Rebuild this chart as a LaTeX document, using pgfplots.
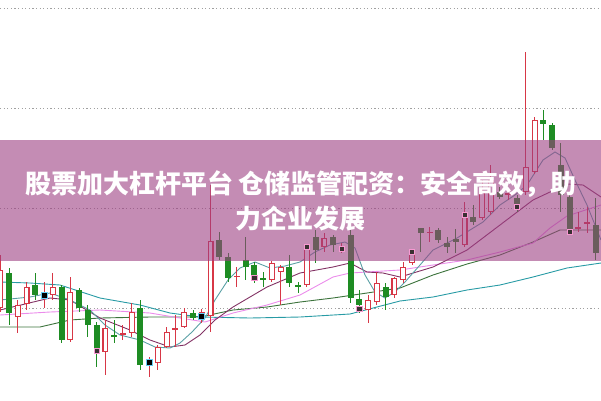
\documentclass[border=0pt]{standalone}
\usepackage{pgfplots}
\usepackage{pgfplotstable}
\pgfplotsset{compat=1.18}
\usepackage{fontspec}
\newfontfamily\cjk{Noto Sans CJK SC}
\definecolor{cred}{RGB}{215,55,70}
\definecolor{cgreen}{RGB}{30,140,35}
\definecolor{maA}{RGB}{90,160,165}
\definecolor{maB}{RGB}{130,50,100}
\definecolor{maC}{RGB}{235,140,235}
\definecolor{maD}{RGB}{60,115,60}
\definecolor{maE}{RGB}{40,155,165}
\definecolor{bannercol}{RGB}{157,63,130}
\definecolor{gridcol}{RGB}{160,160,160}

\pgfplotstableread{
x top bot hi lo
0.2 270 308 255 312
17.8 305 317 300 333
26.5 287 304 282 310
44.0 293 298 282 308
52.8 287 295 273 300
70.3 292 340 277 342
105.4 328 352 320 375
122.9 333 335 325 340
131.6 312 333 303 337
149.2 359 365 357 377
157.9 347 363 345 370
166.7 332 347 327 348
175.4 328 330 315 347
184.2 312 327 308 328
201.7 312 320 309 323
210.5 241 316 185 332
236.8 276 277 267 287
271.8 263 280 261 282
280.6 267 272 265 305
306.8 248 285 245 287
324.4 238 247 233 252
341.9 247 250 243 253
368.2 300 310 295 323
376.9 283 302 272 305
394.4 278 295 277 298
403.2 267 280 262 283
412.0 251 263 249 265
429.5 232 233 227 242
464.5 213 245 202 247
482.0 192 218 180 220
490.8 180 212 165 215
508.3 193 195 188 200
525.8 167 192 52 195
534.6 120 172 117 174
578.4 227 229 212 232
587.2 222 224 207 233
}\redtab

\pgfplotstableread{
x top bot hi lo
9.0 273 313 268 325
35.3 285 295 273 300
61.6 287 340 285 343
79.1 290 308 288 312
87.8 310 325 305 337
96.6 325 353 322 367
114.1 335 337 320 343
140.4 308 365 300 370
193.0 313 318 310 320
219.2 240 257 232 260
228.0 257 278 253 282
245.5 260 267 237 280
254.3 265 278 262 283
263.0 278 280 272 287
289.3 267 283 255 287
298.1 285 287 282 293
315.6 237 250 230 263
333.1 237 245 235 252
350.6 235 298 230 303
359.4 299 305 290 313
385.7 287 297 283 310
420.7 228 233 228 252
438.2 230 240 228 243
447.0 243 247 237 253
455.8 239 242 229 253
473.3 217 222 205 225
499.6 192 197 187 199
517.1 198 210 195 212
543.4 120 124 110 140
552.1 125 148 123 150
560.9 165 195 143 212
569.6 197 233 195 235
595.9 225 253 198 260
}\greentab

% doji markers (black with cyan)
\pgfplotstableread{
x y
44.0 295.5
149.2 362
201.7 316
}\cyantab

% black markers with pink edge
\pgfplotstableread{
x y
96.6 351
254.3 278
306.8 247
341.9 248.5
359.4 309
412.0 252
464.5 215
517.1 207
569.6 232
}\pinktab

\begin{document}
\begin{tikzpicture}
\begin{axis}[
  name=main,
  scale only axis, width=601pt, height=400pt,
  xmin=0, xmax=601, ymin=0, ymax=400, y dir=reverse,
  axis line style={draw=none},
  xtick=\empty, ytick={8.5,108.5,208.5,308.5}, yticklabels={},
  major tick length=0pt,
  ymajorgrids,
  grid style={gridcol, dash pattern=on 1.2pt off 2.4pt, line width=0.9pt},
  clip=true,
]
% moving averages
\addplot[maE, line width=0.9pt] coordinates {(0,282) (30,283) (60,285) (100,298) (140,305) (170,313) (200,317) (250,318) (300,317) (350,314) (400,301) (433,297) (467,290) (500,285) (533,277) (567,268) (601,263)};
\addplot[maD, line width=0.9pt] coordinates {(0,327) (40,327) (70,320) (100,318) (150,317) (200,317) (233,310) (267,307) (300,302) (333,298) (367,293) (400,288) (433,275) (467,264) (500,255) (533,242) (560,230) (601,230)};
\addplot[maC, line width=0.9pt] coordinates {(0,315) (50,312) (100,310) (150,313) (180,318) (205,322) (233,313) (267,305) (300,295) (333,277) (350,273) (367,272) (400,270) (433,265) (467,260) (500,252) (533,243) (550,228) (567,216) (601,205)};
\addplot[maB, line width=0.9pt] coordinates {(0,310) (50,298) (70,300) (100,318) (130,330) (150,340) (170,347) (185,345) (200,335) (215,320) (233,307) (267,287) (300,273) (333,267) (350,263) (367,272) (383,273) (400,277) (433,267) (467,250) (500,225) (533,200) (567,184) (583,185) (601,197)};
\addplot[maA, line width=0.9pt] coordinates {(0,300) (30,297) (50,293) (70,300) (90,310) (105,325) (120,335) (140,340) (155,347) (170,348) (180,343) (192,332) (205,318) (215,300) (228,280) (240,268) (255,262) (270,268) (285,266) (300,262) (315,252) (330,245) (345,242) (355,248) (365,275) (375,292) (385,298) (395,292) (405,282) (420,265) (433,250) (457,238) (483,222) (500,205) (515,195) (527,185) (543,160) (555,152) (565,158) (575,180) (587,205) (601,240)};

% wicks
\addplot[draw=none, mark=none, error bars/.cd, y dir=plus, y explicit, error mark=none,
  error bar style={draw=cred, line width=1pt}]
  table[x=x, y=hi, y error expr={\thisrow{lo}-\thisrow{hi}}] {\redtab};
\addplot[draw=none, mark=none, error bars/.cd, y dir=plus, y explicit, error mark=none,
  error bar style={draw=cgreen, line width=1pt}]
  table[x=x, y=hi, y error expr={\thisrow{lo}-\thisrow{hi}}] {\greentab};
% bodies
\addplot[draw=none, mark=none, error bars/.cd, y dir=plus, y explicit, error mark=none,
  error bar style={draw=cred, line width=6pt}]
  table[x=x, y=top, y error expr={max(\thisrow{bot}-\thisrow{top},1.2)}] {\redtab};
\addplot[draw=none, mark=none, error bars/.cd, y dir=plus, y explicit, error mark=none,
  error bar style={draw=white, line width=3.8pt}]
  table[x=x, y expr={\thisrow{top}+1.1}, y error expr={max(\thisrow{bot}-\thisrow{top}-2.2,0)}] {\redtab};
\addplot[draw=none, mark=none, error bars/.cd, y dir=plus, y explicit, error mark=none,
  error bar style={draw=cgreen, line width=6pt}]
  table[x=x, y=top, y error expr={max(\thisrow{bot}-\thisrow{top},1.2)}] {\greentab};
% markers
\addplot[only marks, mark=square*, mark size=3pt, mark options={fill=black, draw=cyan!60, line width=0.8pt}] table[x=x, y=y] {\cyantab};
\addplot[only marks, mark=square*, mark size=2.6pt, mark options={fill=black!90!magenta, draw=magenta!40, line width=0.8pt}] table[x=x, y=y] {\pinktab};

% banner
\fill[bannercol, fill opacity=0.6] (axis cs:0,140) rectangle (axis cs:601,260.5);
\node[text=white, inner sep=0pt, font=\cjk\bfseries\fontsize{26}{30}\selectfont] at (axis cs:301,184.5) {股票加大杠杆平台 仓储监管配资：安全高效，助};
\node[text=white, inner sep=0pt, font=\cjk\bfseries\fontsize{26}{30}\selectfont] at (axis cs:300,219) {力企业发展};
\end{axis}
\pgfresetboundingbox
\path[use as bounding box] (main.south west) rectangle (main.north east);
\end{tikzpicture}
\end{document}
